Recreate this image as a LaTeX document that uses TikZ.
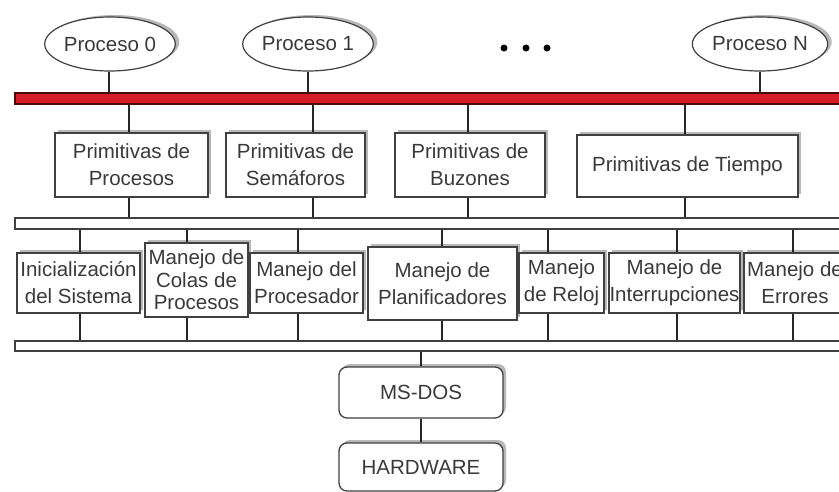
\documentclass[tikz,border=0pt]{standalone}
\usepackage{fontspec}
\setmainfont{Liberation Sans}
\usetikzlibrary{shapes.geometric,shadows}
\definecolor{ink}{HTML}{3A3A3A}
\definecolor{edge}{HTML}{404040}
\definecolor{busred}{HTML}{D41D28}
\definecolor{busdark}{HTML}{4A0A0A}
\tikzset{
  lbl/.style={font=\fontsize{20.5}{27}\selectfont, text=ink, align=center, inner sep=0pt},
  proc/.style={lbl, ellipse, draw=edge, line width=1.2pt, fill=white,
    minimum width=126pt, minimum height=54pt,
    drop shadow={shadow xshift=4pt, shadow yshift=2pt, fill=black!28, opacity=1}},
  box/.style={lbl, rectangle, draw=edge, line width=1.3pt, fill=white,
    drop shadow={shadow xshift=3pt, shadow yshift=3pt, fill=black!28, opacity=1}},
  rbox/.style={box, rounded corners=8pt},
  redbus/.style={rectangle, draw=busdark, line width=1.2pt, fill=busred, inner sep=0pt},
  bus/.style={rectangle, draw=edge, line width=1.4pt, fill=white, inner sep=0pt},
  wire/.style={line width=1.5pt, black!85},
  dot/.style={circle, fill=black, inner sep=0pt, minimum size=7pt}
}
\begin{document}
\begin{tikzpicture}[x=1pt,y=-1pt]
\useasboundingbox (0,0) rectangle (839,491);
\clip (0,0) rectangle (839,491);
\fill[white] (0,0) rectangle (839,491);

% process ellipses
\node[proc] (p0) at (110,44) {Proceso 0};
\node[proc] (p1) at (308,44) {Proceso 1};
\node[proc] (pN) at (760,44) {Proceso N};
\node[dot] (d1) at (504,48) {};
\node[dot] (d2) at (526,48) {};
\node[dot] (d3) at (547,48) {};

% buses
\node[redbus, minimum width=835pt, minimum height=11pt] (bus1) at (432.5,98.5) {};
\node[bus, minimum width=835pt, minimum height=11pt] (bus2) at (432.5,223.5) {};
\node[bus, minimum width=835pt, minimum height=10pt] (bus3) at (432.5,346) {};

% primitives
\node[box, minimum width=153pt, minimum height=64pt] (pr1) at (131.5,165) {Primitivas de\\Procesos};
\node[box, minimum width=139pt, minimum height=64pt] (pr2) at (295.5,165) {Primitivas de\\Semáforos};
\node[box, minimum width=150pt, minimum height=64pt] (pr3) at (470,165) {Primitivas de\\Buzones};
\node[box, minimum width=221pt, minimum height=62pt] (pr4) at (687.5,166) {Primitivas de Tiempo};

% handlers
\node[box, minimum width=123pt, minimum height=60pt] (m1) at (78.5,283) {Inicialización\\del Sistema};
\node[box, minimum width=103pt, minimum height=74pt, font=\fontsize{20.5}{22.5}\selectfont] (m2) at (196.5,280) {Manejo de\\Colas de\\Procesos};
\node[box, minimum width=113pt, minimum height=60pt] (m3) at (306.5,283) {Manejo del\\Procesador};
\node[box, minimum width=149pt, minimum height=73pt] (m4) at (442.5,283.5) {Manejo de\\Planificadores};
\node[box, minimum width=85pt, minimum height=60pt] (m5) at (561.5,283) {Manejo\\de Reloj};
\node[box, minimum width=131pt, minimum height=60pt] (m6) at (674.5,283) {Manejo de\\Interrupciones};
\node[box, minimum width=102pt, minimum height=60pt] (m7) at (795,283) {Manejo de\\Errores};

% lower layers
\node[rbox, minimum width=164pt, minimum height=51pt] (dos) at (421,392.5) {MS-DOS};
\node[rbox, minimum width=164pt, minimum height=48pt] (hw) at (421,467) {HARDWARE};

% processes to red bus
\draw[wire] ([xshift=-1pt]p0.south) -- ([xshift=-1pt]p0.south |- bus1.north);
\draw[wire] (p1.south) -- (p1.south |- bus1.north);
\draw[wire] (pN.south) -- (pN.south |- bus1.north);

% red bus to primitives
\draw[wire] ([xshift=-2.5pt]pr1.north |- bus1.south) -- ([xshift=-2.5pt]pr1.north);
\draw[wire] ([xshift=17.5pt]pr2.north |- bus1.south) -- ([xshift=17.5pt]pr2.north);
\draw[wire] ([xshift=-2pt]pr3.north |- bus1.south) -- ([xshift=-2pt]pr3.north);
\draw[wire] ([xshift=-2.5pt]pr4.north |- bus1.south) -- ([xshift=-2.5pt]pr4.north);

% primitives to middle bus
\draw[wire] ([xshift=-2.5pt]pr1.south) -- ([xshift=-2.5pt]pr1.south |- bus2.north);
\draw[wire] ([xshift=17.5pt]pr2.south) -- ([xshift=17.5pt]pr2.south |- bus2.north);
\draw[wire] ([xshift=-2pt]pr3.south) -- ([xshift=-2pt]pr3.south |- bus2.north);
\draw[wire] ([xshift=-2.5pt]pr4.south) -- ([xshift=-2.5pt]pr4.south |- bus2.north);

% middle bus to handlers and handlers to lower bus
\foreach \m/\dx in {m1/1.5, m2/-9.5, m3/-8.5, m4/-0.5, m5/-13.5, m6/2.5, m7/-2}{
  \draw[wire] ([xshift=\dx pt]\m.north |- bus2.south) -- ([xshift=\dx pt]\m.north);
  \draw[wire] ([xshift=\dx pt]\m.south) -- ([xshift=\dx pt]\m.south |- bus3.north);
}

% lower bus to MS-DOS and hardware
\draw[wire] (dos.north |- bus3.south) -- (dos.north);
\draw[wire] (dos.south) -- (hw.north);
\end{tikzpicture}
\end{document}
